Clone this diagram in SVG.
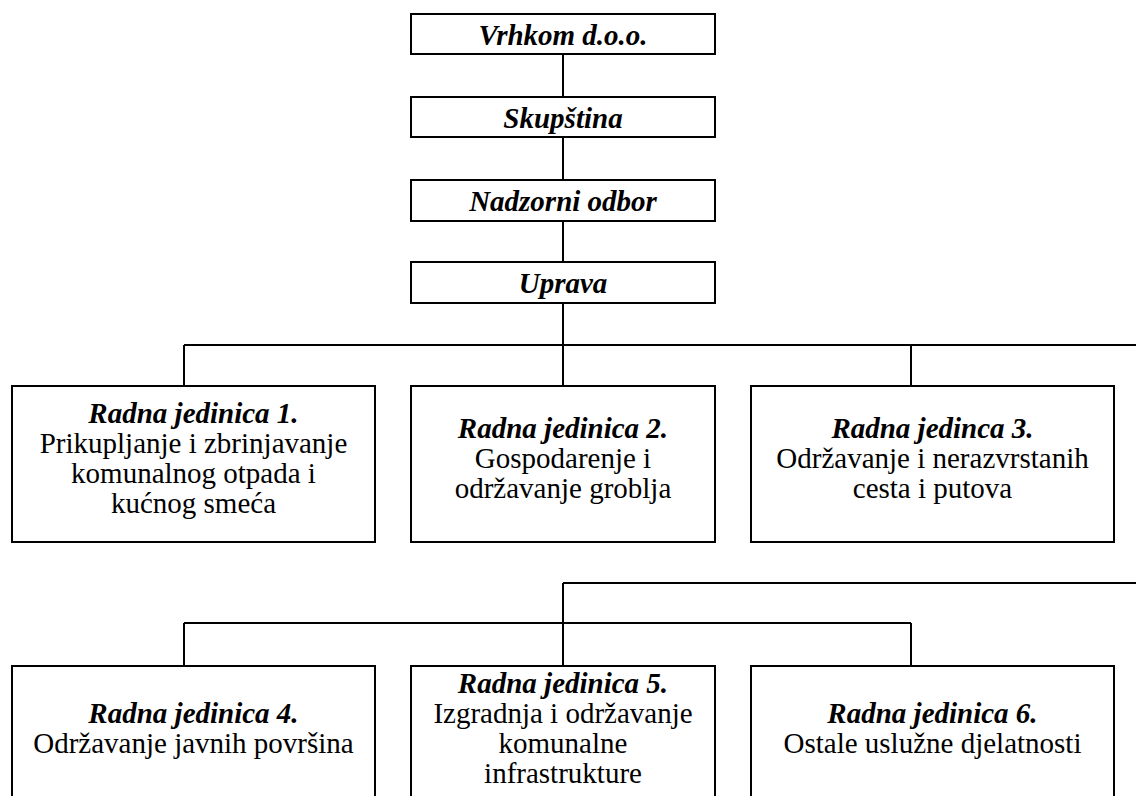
<svg xmlns="http://www.w3.org/2000/svg" width="1136" height="796" viewBox="0 0 1136 796">
<style>
.box{fill:#fff;stroke:#000;stroke-width:2}
.ln{stroke:#000;stroke-width:2;fill:none}
text{font-family:"Liberation Serif","Times New Roman",serif;font-size:29px;fill:#000;text-anchor:middle}
.h{font-weight:bold;font-style:italic}
</style>
<rect width="1136" height="796" fill="#fff"/>
<g id="connectors" class="ln">
<path d="M563 54V97M563 137V180M563 221V262M563 303V345"/>
<path d="M184 345H1136M184 345V386M563 345V386M911 345V386"/>
<path d="M563 583H1136M563 583V666"/>
<path d="M184 623H911M184 623V666M911 623V666"/>
</g>
<g id="vrhkom"><rect class="box" x="411" y="14" width="304" height="40"/><text class="h" x="563" y="45">Vrhkom d.o.o.</text></g>
<g id="skupstina"><rect class="box" x="411" y="97" width="304" height="40"/><text class="h" x="563" y="128">Skupština</text></g>
<g id="nadzorni"><rect class="box" x="411" y="180" width="304" height="41"/><text class="h" x="563" y="211">Nadzorni odbor</text></g>
<g id="uprava"><rect class="box" x="411" y="262" width="304" height="41"/><text class="h" x="563" y="293">Uprava</text></g>
<g id="rj1"><rect class="box" x="12" y="386" width="363" height="156"/><text><tspan class="h" x="193.5" y="423">Radna jedinica 1.</tspan><tspan x="193.5" y="453">Prikupljanje i zbrinjavanje</tspan><tspan x="193.5" y="483">komunalnog otpada i</tspan><tspan x="193.5" y="513">kućnog smeća</tspan></text></g>
<g id="rj2"><rect class="box" x="411" y="386" width="304" height="156"/><text><tspan class="h" x="563" y="438">Radna jedinica 2.</tspan><tspan x="563" y="468">Gospodarenje i</tspan><tspan x="563" y="498">održavanje groblja</tspan></text></g>
<g id="rj3"><rect class="box" x="751" y="386" width="363" height="156"/><text><tspan class="h" x="932.5" y="438">Radna jedinca 3.</tspan><tspan x="932.5" y="468">Održavanje i nerazvrstanih</tspan><tspan x="932.5" y="498">cesta i putova</tspan></text></g>
<g id="rj4"><rect class="box" x="12" y="666" width="363" height="150"/><text><tspan class="h" x="193.5" y="723">Radna jedinica 4.</tspan><tspan x="193.5" y="753">Održavanje javnih površina</tspan></text></g>
<g id="rj5"><rect class="box" x="411" y="666" width="304" height="150"/><text><tspan class="h" x="563" y="693">Radna jedinica 5.</tspan><tspan x="563" y="723">Izgradnja i održavanje</tspan><tspan x="563" y="753">komunalne</tspan><tspan x="563" y="783">infrastrukture</tspan></text></g>
<g id="rj6"><rect class="box" x="751" y="666" width="363" height="150"/><text><tspan class="h" x="932.5" y="723">Radna jedinica 6.</tspan><tspan x="932.5" y="753">Ostale uslužne djelatnosti</tspan></text></g>
</svg>
